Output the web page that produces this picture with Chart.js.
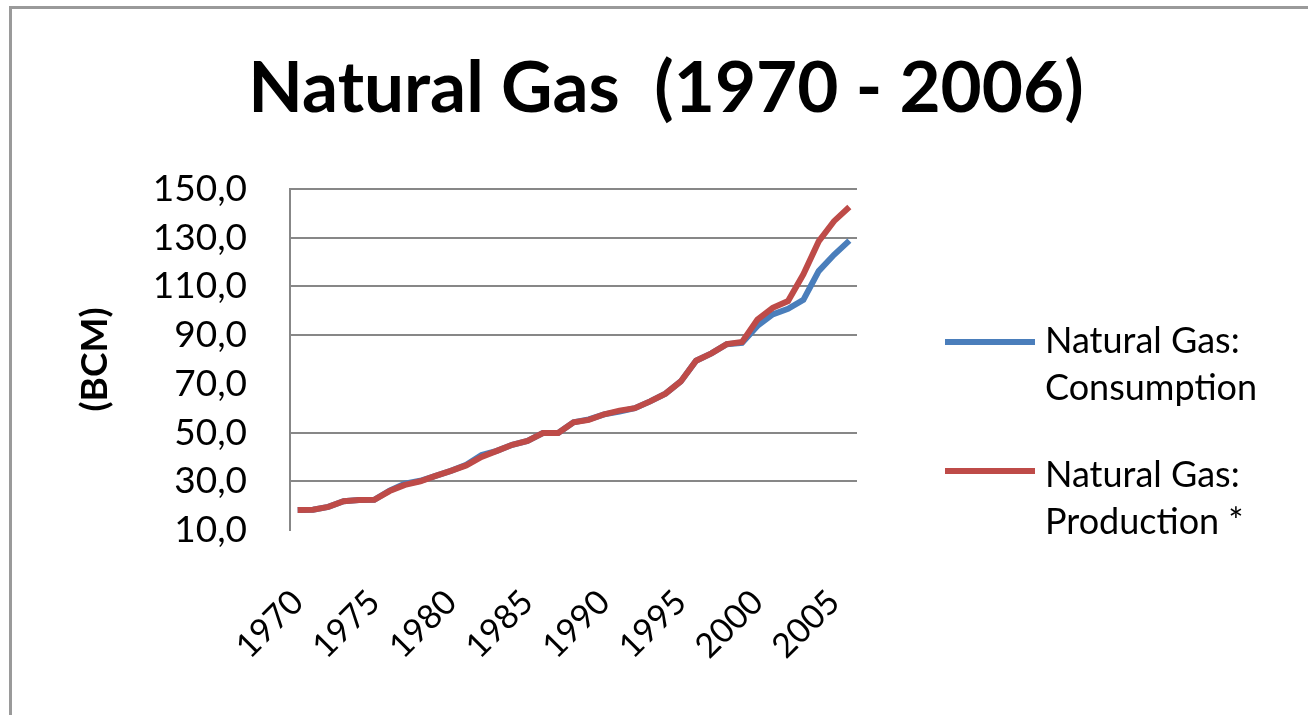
<!DOCTYPE html>
<html>
<head>
<meta charset="utf-8">
<script src="https://cdn.jsdelivr.net/npm/chart.js@4.4.1/dist/chart.umd.min.js"></script>
<style>
  html, body { margin: 0; padding: 0; background: #fff; overflow: hidden; }
  #wrap { position: relative; width: 1308px; height: 715px; overflow: hidden; background: #fff; }
  #frame { position: absolute; left: 9px; top: 6px; width: 1400px; height: 800px;
           border-left: 3px solid #9a9a9a; border-top: 3px solid #9a9a9a; }
  #title { position: absolute; left: 0; top: 45px; width: 1332px; text-align: center;
           font-family: Lato, sans-serif; font-weight: bold; font-size: 71px; line-height: 80px;
           white-space: pre; color: #000; }
  #cv { position: absolute; left: 0; top: 0; }
  .lg-line { position: absolute; left: 945px; width: 90px; height: 6px; }
  .lg-text { position: absolute; left: 1045px; font-family: Lato, sans-serif; font-size: 36px;
             line-height: 47px; color: #000; white-space: pre; }
</style>
</head>
<body>
<div id="wrap">
  <div id="frame"></div>
  <canvas id="cv" width="1308" height="715"></canvas>
  <div id="title"></div>
  <div id="legend"></div>
</div>
<script>
// ---- data ----
const chartTitle = "Natural Gas  (1970 - 2006)";
const yAxisTitle = "(BCM)";
const years = ["1970","1971","1972","1973","1974","1975","1976","1977","1978","1979",
               "1980","1981","1982","1983","1984","1985","1986","1987","1988","1989",
               "1990","1991","1992","1993","1994","1995","1996","1997","1998","1999",
               "2000","2001","2002","2003","2004","2005","2006"];
const consumption = [18.2,18.3,19.5,21.8,22.3,22.4,26.2,29.0,30.2,32.2,
                     34.3,36.8,40.8,42.5,45.0,46.6,49.8,49.8,54.2,55.4,
                     57.5,58.6,60.0,62.8,66.0,71.0,79.5,82.5,86.3,86.8,
                     93.8,98.5,100.8,104.5,116.3,123.0,128.8];
const production  = [18.2,18.3,19.5,21.8,22.3,22.4,26.0,28.5,30.0,32.2,
                     34.3,36.5,40.0,42.5,45.0,46.6,49.8,49.8,54.2,55.2,
                     57.5,59.0,60.0,62.8,66.0,71.0,79.5,82.5,86.3,87.2,
                     96.4,101.2,104.0,115.0,128.5,136.8,142.6];
const yTicks = [10, 30, 50, 70, 90, 110, 130, 150];
const hiddenGrid = [10, 70];
const seriesNames = ["Natural Gas: Consumption", "Natural Gas: Production *"];
const seriesLegendLines = [["Natural Gas:", "Consumption"], ["Natural Gas:", "Production *"]];
const seriesColors = ["#4a7ebb", "#be4b48"];

// ---- chart ----
Chart.defaults.font.family = "Lato, sans-serif";
Chart.defaults.color = "#000";

document.getElementById('title').textContent = chartTitle;

const chart = new Chart(document.getElementById('cv'), {
  type: 'line',
  data: {
    labels: years,
    datasets: [
      { label: seriesNames[0], data: consumption, borderColor: seriesColors[0], backgroundColor: seriesColors[0],
        borderWidth: 6, pointRadius: 0, tension: 0, order: 2 },
      { label: seriesNames[1], data: production, borderColor: seriesColors[1], backgroundColor: seriesColors[1],
        borderWidth: 6, pointRadius: 0, tension: 0, order: 1 }
    ]
  },
  options: {
    responsive: false,
    animation: false,
    layout: { padding: { top: 189, right: 451, left: 0, bottom: 0 } },
    plugins: { legend: { display: false }, title: { display: false }, tooltip: { enabled: false } },
    scales: {
      x: {
        type: 'category',
        offset: true,
        grid: { display: false, drawTicks: false },
        border: { display: false },
        ticks: {
          autoSkip: false, minRotation: 45, maxRotation: 45, padding: 52,
          font: { size: 34 }, color: '#000',
          callback: function(v, i) { return i % 5 === 0 ? this.getLabelForValue(v) : ''; }
        },
        afterFit: (s) => { s.height = 185; }
      },
      y: {
        min: yTicks[0], max: yTicks[yTicks.length - 1],
        afterBuildTicks: (s) => { s.ticks = yTicks.map(v => ({ value: v })); },
        grid: {
          drawTicks: false, lineWidth: 2,
          color: (c) => (c.tick && hiddenGrid.includes(c.tick.value)) ? 'rgba(0,0,0,0)' : '#878787'
        },
        border: { display: true, color: '#878787', width: 2 },
        ticks: {
          padding: 43, font: { size: 37 }, color: '#000',
          callback: (v) => Number(v).toFixed(1).replace('.', ',')
        },
        title: { display: true, text: yAxisTitle, color: '#000',
                 font: { size: 37, weight: 'bold' }, padding: { top: 73, bottom: 0 } },
        afterFit: (s) => { s.width = 290; }
      }
    }
  }
});

// ---- HTML legend built from the datasets ----
const legend = document.getElementById('legend');
const lineTops = [339, 468];
const textTops = [316, 450];
chart.data.datasets.forEach((ds, i) => {
  const ln = document.createElement('div');
  ln.className = 'lg-line';
  ln.style.top = lineTops[i] + 'px';
  ln.style.background = ds.borderColor;
  legend.appendChild(ln);
  const tx = document.createElement('div');
  tx.className = 'lg-text';
  tx.style.top = textTops[i] + 'px';
  tx.textContent = seriesLegendLines[i].join('\n');
  legend.appendChild(tx);
});
</script>
</body>
</html>
